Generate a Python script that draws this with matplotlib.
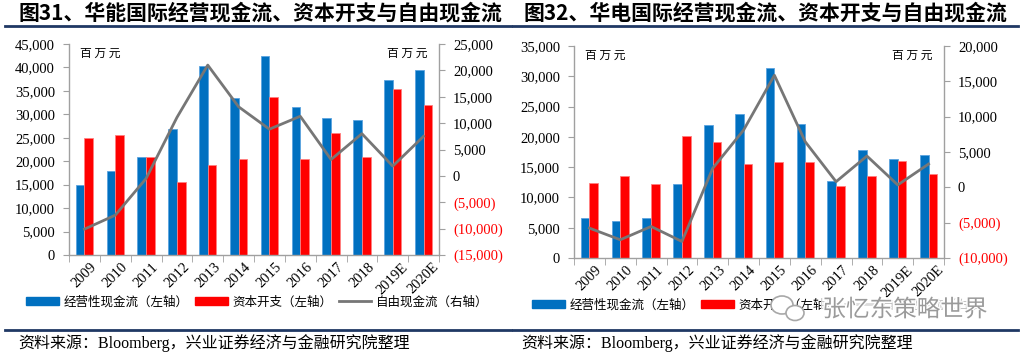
import matplotlib
matplotlib.use('Agg')
import matplotlib.pyplot as plt
import matplotlib.patheffects as pe
from matplotlib.patches import Patch, Ellipse
from matplotlib.lines import Line2D
import numpy as np

plt.rcParams['font.family'] = ['Liberation Serif', 'Noto Sans CJK SC']

years = ['2009', '2010', '2011', '2012', '2013', '2014', '2015', '2016',
         '2017', '2018', '2019E', '2020E']

# 华能国际
hn_ocf = [15000, 18000, 21000, 26900, 40300, 33400, 42400, 31500, 29150, 28700, 37250, 39400]
hn_capex = [25000, 25500, 21000, 15600, 19300, 20400, 33600, 20400, 26100, 20800, 35300, 31900]
hn_fcf = [-10100, -7450, -500, 11070, 21000, 13100, 8850, 11300, 3100, 8000, 1850, 7500]

# 华电国际
hd_ocf = [6680, 6030, 6680, 12280, 21900, 23700, 31440, 22160, 12780, 17780, 16300, 16960]
hd_capex = [12450, 13550, 12280, 20080, 19100, 15470, 15800, 15800, 11950, 13550, 15970, 13830]
hd_fcf = [-5770, -7420, -5540, -7660, 2700, 8100, 15860, 6450, 800, 4430, 340, 3300]

BLUE = '#0070C0'
RED = '#FF0000'
GRAY = '#767676'
CJK = ['Noto Sans CJK SC', 'DejaVu Sans']

fig = plt.figure(figsize=(10.22, 3.57), dpi=100)
W, H = 1022, 357


def fmt(v):
    if v < 0:
        return '({:,})'.format(-v)
    return '{:,}'.format(v)


def panel(left_px, right_px, top_px, bottom_px, ocf, capex, fcf, lmax, lstep, rmin, rmax, rstep):
    ax = fig.add_axes([left_px / W, 1 - bottom_px / H, (right_px - left_px) / W,
                       (bottom_px - top_px) / H])
    x = np.arange(len(years))
    bw = 0.28
    ax.bar(x - bw / 2, ocf, bw, color=BLUE, edgecolor='#5BA3E0', linewidth=0.6, zorder=2)
    ax.bar(x + bw / 2, capex, bw, color=RED, edgecolor='#FF8080', linewidth=0.6, zorder=2)
    ax.set_xlim(-0.5, len(years) - 0.5)
    ax.set_ylim(0, lmax)
    yt = np.arange(0, lmax + 1, lstep)
    ax.set_yticks(yt)
    ax.set_yticklabels([fmt(int(v)) for v in yt], fontsize=10.5)
    ax.set_xticks(x)
    ax.set_xticklabels(years, rotation=45, fontsize=10.5, ha='center', va='top')
    ax.set_xticks(np.arange(-0.5, len(years)), minor=True)
    ax.tick_params(axis='x', which='major', length=0, pad=4)
    ax.tick_params(axis='x', which='minor', length=5, color='#A0A0A0')
    ax.tick_params(axis='y', length=4, color='#A0A0A0', pad=6)
    ax.spines['top'].set_visible(False)
    ax.spines['right'].set_visible(False)
    for s in ['left', 'bottom']:
        ax.spines[s].set_color('#A0A0A0')
        ax.spines[s].set_linewidth(1.0)
    ax.text(0.03, 0.985, '百 万 元', transform=ax.transAxes, fontsize=8.5,
            family=CJK, va='top', ha='left', style='italic')

    ax2 = ax.twinx()
    ax2.plot(x, fcf, color=GRAY, linewidth=2.0, zorder=3)
    ax2.set_ylim(rmin, rmax)
    rt = np.arange(rmin, rmax + 1, rstep)
    ax2.set_yticks(rt)
    ax2.set_yticklabels([fmt(int(v)) for v in rt], fontsize=10.5)
    for lab, v in zip(ax2.get_yticklabels(), rt):
        if v < 0:
            lab.set_color(RED)
    ax2.tick_params(axis='y', length=4, color='#A0A0A0', pad=6)
    for s in ['top', 'left', 'bottom']:
        ax2.spines[s].set_visible(False)
    ax2.spines['right'].set_color('#A0A0A0')
    ax2.spines['right'].set_linewidth(1.0)
    ax2.text(0.97, 0.985, '百 万 元', transform=ax2.transAxes, fontsize=8.5,
             family=CJK, va='top', ha='right', style='italic')
    return ax, ax2


panel(69, 439, 44, 255, hn_ocf, hn_capex, hn_fcf, 45000, 5000, -15000, 25000, 5000)
panel(574, 944, 46, 258, hd_ocf, hd_capex, hd_fcf, 35000, 5000, -10000, 20000, 5000)

# titles
fig.text(18 / W, 1 - 13 / H, '图31、华能国际经营现金流、资本开支与自由现金流', fontsize=15,
         fontweight='bold', family=CJK, va='center', ha='left')
fig.text(523 / W, 1 - 13 / H, '图32、华电国际经营现金流、资本开支与自由现金流', fontsize=15,
         fontweight='bold', family=CJK, va='center', ha='left')
for x0, x1 in [(5, 511), (513, 1018)]:
    fig.add_artist(Line2D([x0 / W, x1 / W], [1 - 25.5 / H] * 2, color='#1F3864', linewidth=2))
    fig.add_artist(Line2D([x0 / W, x1 / W], [1 - 330 / H] * 2, color='#1F3864', linewidth=2))

# legends
handles = [Patch(color=BLUE), Patch(color=RED), Line2D([], [], color=GRAY, linewidth=2)]
labels = ['经营性现金流（左轴）', '资本开支（左轴）', '自由现金流（右轴）']
lkw = dict(ncol=3, frameon=False, prop={'family': CJK, 'size': 9}, handlelength=2.6,
           handleheight=0.6, columnspacing=0.5, handletextpad=0.4, loc='center left')
fig.legend(handles, labels, bbox_to_anchor=(15 / W, 1 - 302 / H), **lkw)
fig.legend(handles, labels, bbox_to_anchor=(521 / W, 1 - 305 / H), **lkw)

# watermark (sits over the right legend, as in the source image)
wm = fig.text(905 / W, 1 - 310 / H, '张忆东策略世界', fontsize=17, family=CJK, color='#9A9A9A',
              va='center', ha='center', zorder=10,
              bbox=dict(facecolor='white', alpha=0.75, edgecolor='none', pad=1))
wm.set_path_effects([pe.withStroke(linewidth=2, foreground='white')])
for cx, cy, w, h in [(782, 305, 22, 18), (795, 313, 18, 15)]:
    fig.add_artist(Ellipse((cx / W, 1 - cy / H), w / W, h / H, facecolor='white',
                           edgecolor='#A8A8A8', linewidth=1.2, zorder=10))

# sources
src = '资料来源：Bloomberg，兴业证券经济与金融研究院整理'
fig.text(18 / W, 1 - 343 / H, src, fontsize=11.5, va='center', ha='left')
fig.text(521 / W, 1 - 343 / H, src, fontsize=11.5, va='center', ha='left')

fig.savefig('out.png', dpi=100)
